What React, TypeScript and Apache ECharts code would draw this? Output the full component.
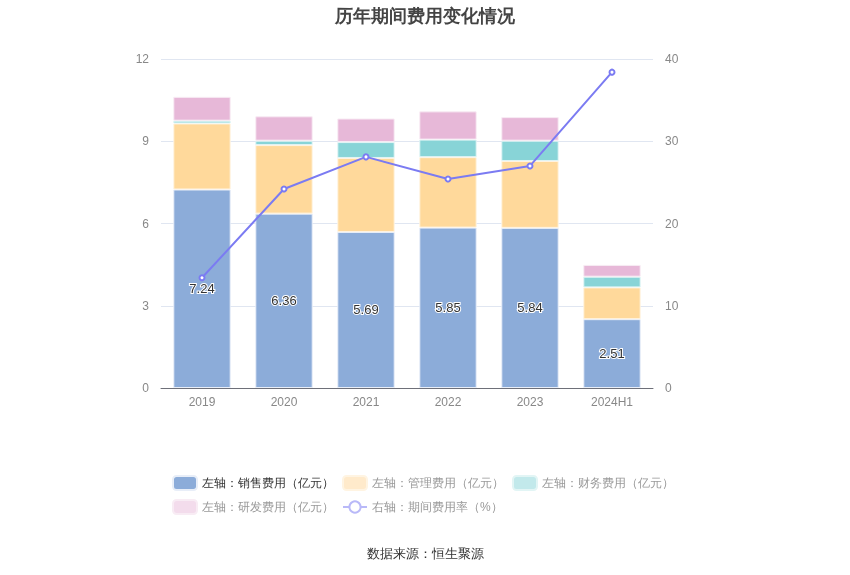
import React, { useEffect, useRef } from "react";
import * as echarts from "echarts";

const categories = ["2019", "2020", "2021", "2022", "2023", "2024H1"];
const salesExp = [7.24, 6.36, 5.69, 5.85, 5.84, 2.51];
const adminExp = [2.41, 2.5, 2.7, 2.57, 2.44, 1.16];
const financeExp = [0.1, 0.16, 0.58, 0.64, 0.74, 0.39];
const rdExp = [0.87, 0.89, 0.86, 1.03, 0.86, 0.43];
const expenseRate = [13.4, 24.2, 28.1, 25.4, 27.0, 38.4];

const names = [
  "左轴：销售费用（亿元）",
  "左轴：管理费用（亿元）",
  "左轴：财务费用（亿元）",
  "左轴：研发费用（亿元）",
  "右轴：期间费用率（%）",
];

export default function App() {
  const ref = useRef<HTMLDivElement>(null);
  useEffect(() => {
    const chart = echarts.init(ref.current!, null, { renderer: "svg" });
    const barBase = {
      type: "bar",
      stack: "exp",
      barWidth: "70%",
      yAxisIndex: 0,
    };
    chart.setOption({
      animation: false,
      title: {
        text: "历年期间费用变化情况",
        left: "center",
        top: 2,
        textStyle: { fontSize: 18, fontWeight: "bold", color: "#444" },
      },
      graphic: [
        {
          type: "text",
          left: "center",
          top: 547,
          style: { text: "数据来源：恒生聚源", fontSize: 13, fill: "#333" },
        },
      ],
      legend: {
        left: 172,
        top: 475,
        width: 510,
        padding: 0,
        itemWidth: 24,
        itemHeight: 14,
        itemGap: 8,
        textStyle: { fontSize: 12, color: "#999" },
        data: [
          { name: names[0], itemStyle: { color: "#8CACD9" }, textStyle: { color: "#333" } },
          { name: names[1], itemStyle: { color: "#FFEACB" } },
          { name: names[2], itemStyle: { color: "#C2E9EB" } },
          { name: names[3], itemStyle: { color: "#F3DCEC" } },
          {
            name: names[4],
            itemStyle: { color: "#B9B9F8", borderColor: "#B9B9F8", borderWidth: 1.5 },
            lineStyle: { color: "#B9B9F8", width: 2, type: "solid" },
          },
        ],
      },
      grid: { left: 161, right: 197, top: 59, bottom: 187 },
      xAxis: {
        type: "category",
        data: categories,
        axisTick: { show: false },
        axisLine: { lineStyle: { color: "#6E7079" } },
        axisLabel: { color: "#888", fontSize: 12, margin: 8 },
      },
      yAxis: [
        {
          type: "value",
          min: 0,
          max: 12,
          interval: 3,
          axisLabel: { color: "#888", fontSize: 12, margin: 12 },
          splitLine: { lineStyle: { color: "#E0E6F1" } },
        },
        {
          type: "value",
          min: 0,
          max: 40,
          interval: 10,
          axisLabel: { color: "#888", fontSize: 12, margin: 12 },
          splitLine: { show: false },
        },
      ],
      series: [
        {
          ...barBase,
          name: names[0],
          data: salesExp,
          itemStyle: { color: "#8CACD9", borderColor: "#E8EEF8", borderWidth: 1 },
          label: {
            show: true,
            position: "inside",
            color: "#333",
            fontSize: 13,
            textBorderColor: "#fff",
            textBorderWidth: 2,
          },
        },
        {
          ...barBase,
          name: names[1],
          data: adminExp,
          itemStyle: { color: "#FFD99B", borderColor: "#FFF4E2", borderWidth: 1 },
        },
        {
          ...barBase,
          name: names[2],
          data: financeExp,
          itemStyle: { color: "#88D4D7", borderColor: "#E2F5F5", borderWidth: 1 },
        },
        {
          ...barBase,
          name: names[3],
          data: rdExp,
          itemStyle: { color: "#E7B8D8", borderColor: "#F8ECF4", borderWidth: 1 },
        },
        {
          type: "line",
          name: names[4],
          yAxisIndex: 1,
          data: expenseRate,
          symbol: "emptyCircle",
          symbolSize: 5,
          lineStyle: { color: "#7B7BF2", width: 2 },
          itemStyle: { color: "#7B7BF2" },
          z: 5,
        },
      ],
    });
    return () => chart.dispose();
  }, []);
  return (
    <div
      ref={ref}
      style={{ position: "fixed", left: 0, top: 0, width: 850, height: 575 }}
    />
  );
}
